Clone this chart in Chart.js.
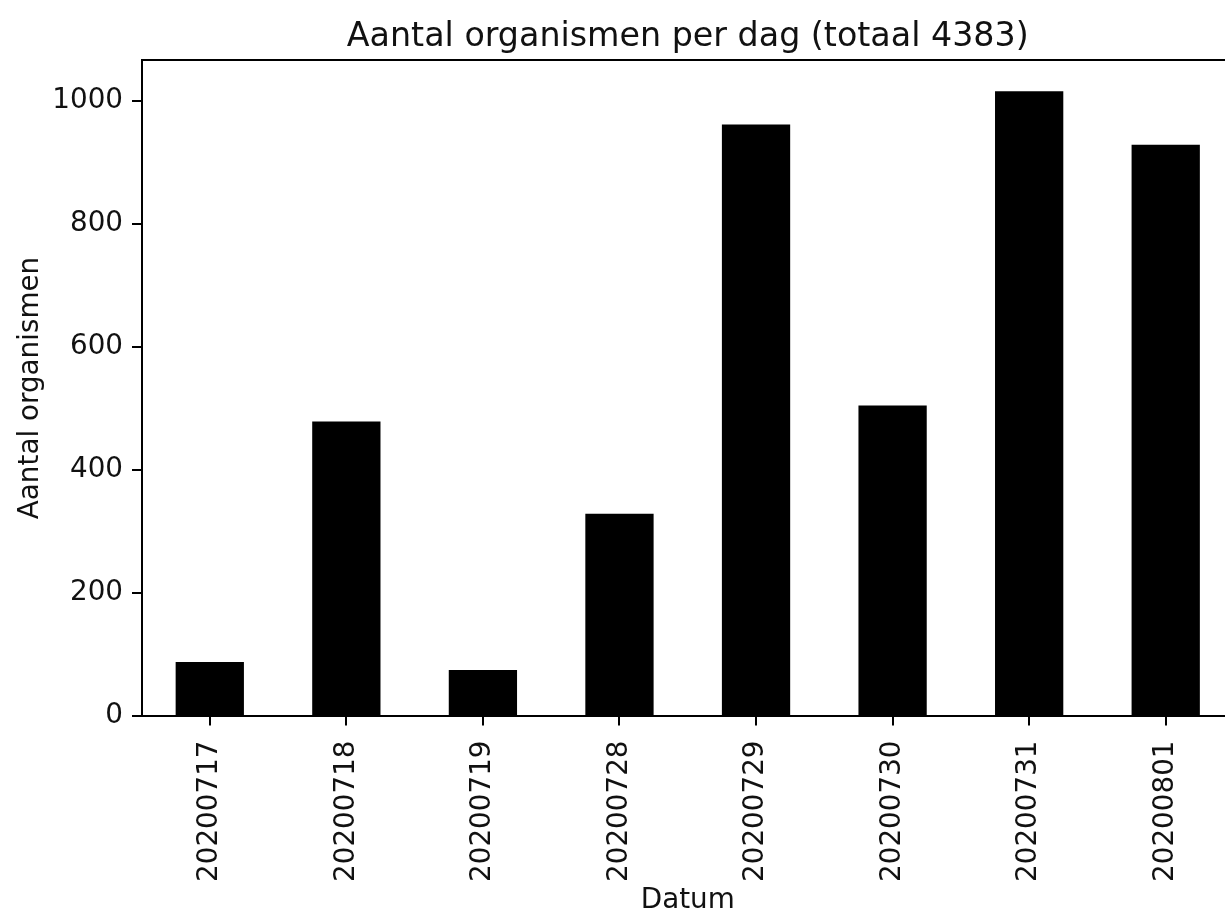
<!DOCTYPE html>
<html>
<head>
<meta charset="utf-8">
<script src="https://cdn.jsdelivr.net/npm/chart.js@4/dist/chart.umd.min.js"></script>
<style>
  html, body { margin: 0; padding: 0; background: #fff; overflow: hidden; width: 1225px; height: 911px; }
  #wrap { width: 1250px; height: 925px; }
</style>
</head>
<body>
<div id="wrap"><canvas id="c" width="1250" height="925"></canvas></div>
<script>
const categories = ["20200717", "20200718", "20200719", "20200728", "20200729", "20200730", "20200731", "20200801"];
const counts = [88, 479, 75, 329, 962, 505, 1016, 929];
const yTicks = [0, 200, 400, 600, 800, 1000];
const total = counts.reduce((a, b) => a + b, 0);
const titleText = "Aantal organismen per dag (totaal " + total + ")";
const xTitle = "Datum";
const yTitle = "Aantal organismen";

const FONT = "'DejaVu Sans', sans-serif";
const TICK = 27.8;
const TXT = '#111';

const frame = {
  id: 'frame',
  afterDatasetsDraw(chart) {
    const {ctx, chartArea: a} = chart;
    ctx.save();
    ctx.strokeStyle = '#000';
    ctx.lineWidth = 2;
    ctx.beginPath();
    ctx.moveTo(a.left, a.top);
    ctx.lineTo(a.right, a.top);
    ctx.lineTo(a.right, a.bottom);
    ctx.stroke();
    ctx.restore();
  }
};

new Chart(document.getElementById('c'), {
  type: 'bar',
  data: {
    labels: categories,
    datasets: [{
      data: counts,
      backgroundColor: '#000',
      borderWidth: 0,
      barPercentage: 0.5,
      categoryPercentage: 1.0
    }]
  },
  options: {
    responsive: false,
    animation: false,
    layout: { padding: { left: 0, right: 16, top: 0, bottom: 0 } },
    plugins: {
      legend: { display: false },
      tooltip: { enabled: false },
      title: {
        display: true,
        fullSize: false,
        text: titleText,
        color: TXT,
        font: { family: FONT, size: 33.3, weight: 'normal', lineHeight: 1.2 },
        padding: { top: 17, bottom: 3 }
      }
    },
    scales: {
      x: {
        offset: true,
        grid: { display: true, drawOnChartArea: false, drawTicks: true, tickLength: 9.5, color: '#000', lineWidth: 2, offset: false },
        border: { display: true, color: '#000', width: 2 },
        ticks: {
          color: TXT,
          font: { family: FONT, size: TICK },
          minRotation: 90, maxRotation: 90,
          padding: 15,
          autoSkip: false
        },
        title: {
          display: true, text: xTitle, color: TXT,
          font: { family: FONT, size: TICK },
          padding: { top: 0, bottom: 8 }
        },
        afterFit(scale) { scale.height = 209; }
      },
      y: {
        min: 0,
        max: Math.max(...counts) * 1.05,
        grid: { display: true, drawOnChartArea: false, drawTicks: true, tickLength: 9.5, color: '#000', lineWidth: 2 },
        border: { display: true, color: '#000', width: 2 },
        ticks: {
          color: TXT,
          font: { family: FONT, size: TICK },
          padding: 9,
          callback: (v) => String(v)
        },
        afterBuildTicks(scale) { scale.ticks = yTicks.map(v => ({ value: v })); },
        title: {
          display: true, text: yTitle, color: TXT,
          font: { family: FONT, size: TICK },
          padding: { top: 14, bottom: 0 }
        },
        afterFit(scale) { scale.width = 141.5; }
      }
    }
  },
  plugins: [frame]
});
</script>
</body>
</html>
